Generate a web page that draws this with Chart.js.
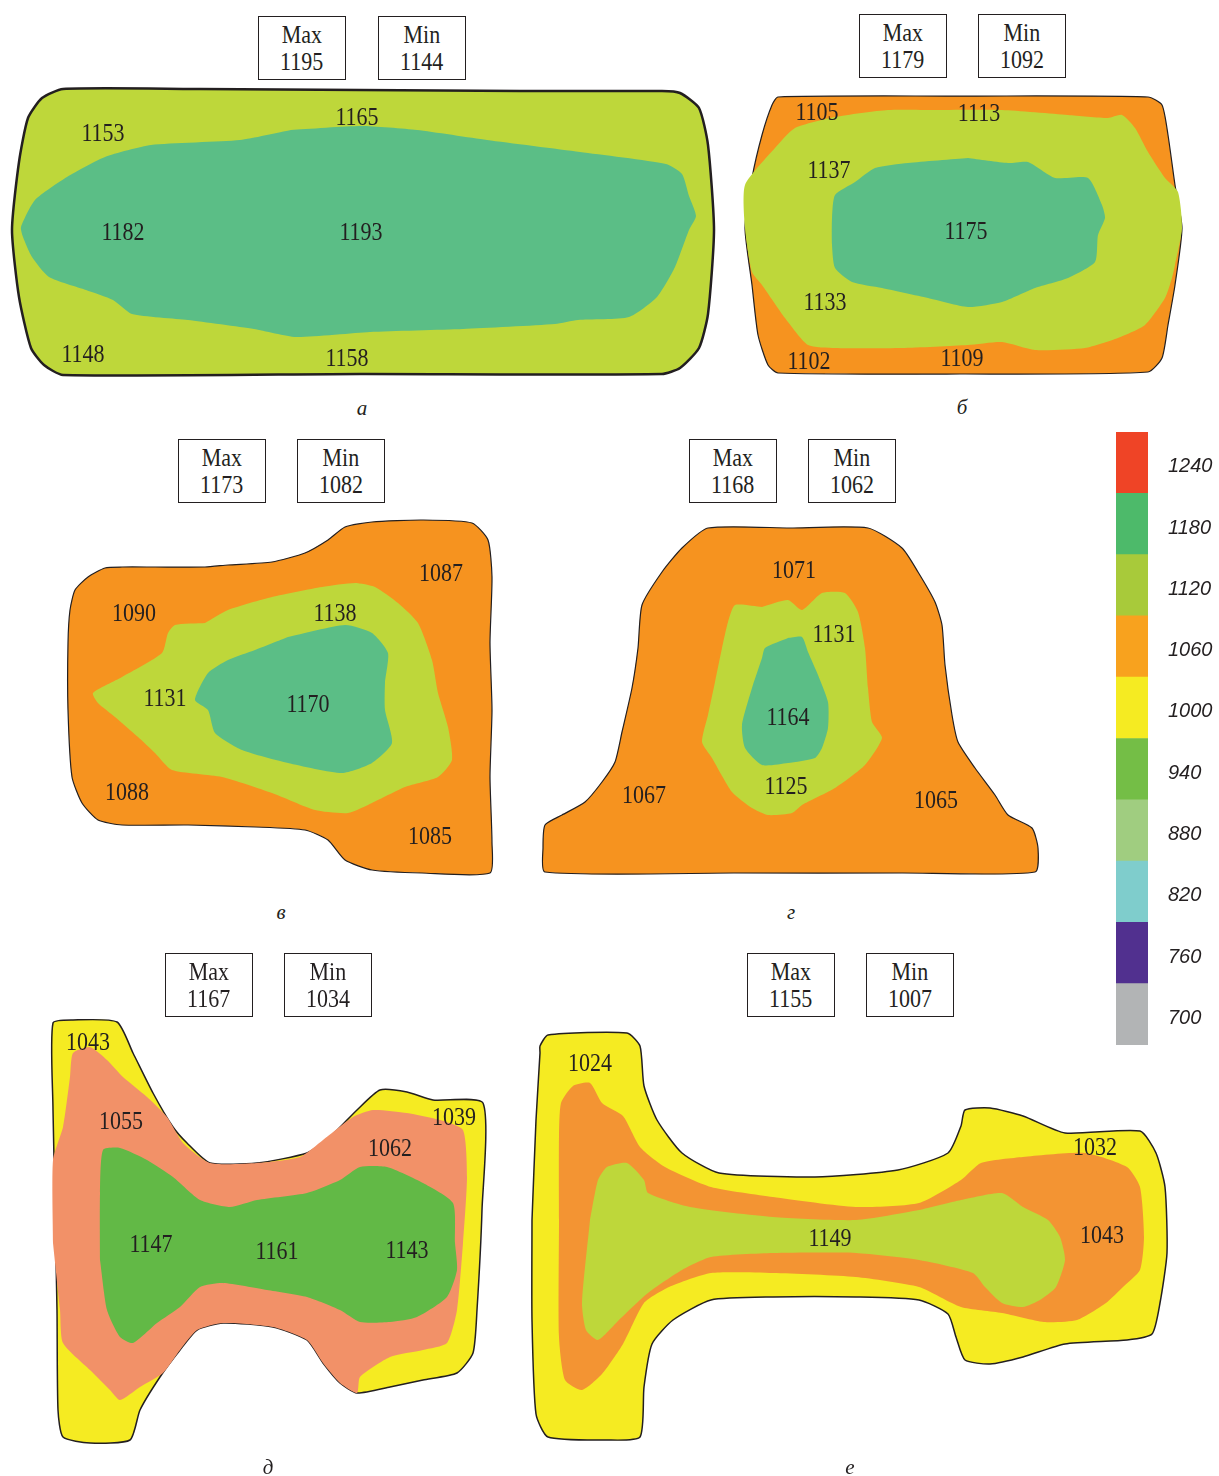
<!DOCTYPE html>
<html>
<head>
<meta charset="utf-8">
<script src="https://cdn.jsdelivr.net/npm/chart.js@4.4.1/dist/chart.umd.min.js"></script>
<style>
  html, body { margin: 0; padding: 0; background: #fff; }
  #page { position: relative; width: 1219px; height: 1476px; overflow: hidden; background: #fff; }
  #page canvas { position: absolute; }
  .tbox {
    position: absolute; box-sizing: border-box; border: 1.5px solid #231f20;
    font: 25px "Liberation Serif", "Times New Roman", serif; color: #231f20;
    text-align: center; line-height: 27px; padding-top: 4px;
  }
  .tbox span { display: inline-block; transform: scaleX(0.88); }
  .cap {
    position: absolute; transform: translate(-50%, -50%);
    font: italic 21px "Liberation Serif", "Times New Roman", serif; color: #231f20;
  }
</style>
</head>
<body>
<div id="page"></div>
<script>
// ---- Temperature field data for six rolled sections (°C) ----
// Contour rings are [x, y] in the common drawing frame; temps are spot readings.

// Section а
const secA_outer = [[200,89],[360,90],[520,91],[662,91],[680,93],[699,108],[708,145],[714,230],[708,314],[699,348],[680,368],[662,374],[360,374],[63,375],[44,365],[31,348],[19,297],[12,230],[19,162],[28,118],[42,98],[63,89]];
const secA_core = [[291,130],[361,126],[417,130],[487,140],[580,152],[666,164],[682,174],[689,196],[696,216],[689,230],[675,267],[657,297],[629,317],[578,320],[555,324],[463,329],[370,332],[296,337],[254,329],[188,320],[132,314],[113,300],[86,290],[49,277],[32,257],[23,237],[21,227],[35,200],[67,177],[105,157],[151,145],[240,140]];
const secA_temps = [1153, 1165, 1182, 1193, 1148, 1158];
const secA_at = [[103,133],[357,117],[123,232],[361,232],[83,354],[347,358]];

// Section б
const secB_outer = [[960,96],[1148,97],[1162,105],[1168,135],[1175,185],[1182,228],[1175,285],[1168,325],[1162,358],[1148,372],[960,374],[778,373],[768,365],[758,335],[752,285],[745,228],[752,178],[762,135],[772,105],[778,97]];
const secB_mid = [[935,110],[1002,110],[1068,115],[1108,118],[1122,115],[1135,128],[1148,152],[1165,178],[1178,192],[1182,228],[1175,265],[1172,278],[1165,298],[1145,325],[1118,338],[1085,348],[1035,350],[1002,342],[968,345],[902,348],[835,348],[808,345],[785,318],[762,285],[752,272],[745,228],[745,185],[775,148],[795,128],[835,117],[888,110]];
const secB_core = [[968,158],[1008,163],[1028,162],[1055,178],[1088,178],[1102,205],[1105,218],[1098,235],[1095,262],[1068,278],[1035,288],[1002,302],[968,307],[928,298],[882,288],[852,282],[835,268],[832,245],[832,218],[835,195],[855,182],[875,168],[908,163]];
const secB_temps = [1105, 1113, 1137, 1175, 1133, 1102, 1109];
const secB_at = [[817,112],[979,113],[829,170],[966,231],[825,302],[809,361],[962,358]];

// Section в
const secC_outer = [[155,567],[205,567],[228,565],[272,562],[305,553],[328,540],[345,527],[372,522],[422,520],[472,523],[488,540],[492,577],[490,643],[492,710],[490,777],[492,843],[490,873],[422,873],[372,870],[345,860],[328,840],[305,830],[255,827],[188,825],[122,825],[98,820],[82,803],[72,777],[68,710],[68,643],[70,610],[75,590],[88,577],[105,568],[122,567]];
const secC_mid = [[205,623],[228,610],[272,597],[322,587],[355,583],[375,587],[398,603],[418,623],[432,660],[438,693],[448,727],[452,760],[438,777],[405,787],[372,803],[348,813],[315,810],[272,793],[222,777],[172,770],[155,753],[138,737],[115,717],[98,703],[93,693],[122,677],[162,653],[168,633],[175,625]];
const secC_core = [[288,637],[345,625],[372,633],[388,653],[385,683],[385,710],[392,743],[372,763],[342,773],[288,763],[242,750],[215,733],[208,710],[195,700],[208,673],[228,660],[255,650]];
const secC_temps = [1090, 1087, 1138, 1131, 1170, 1088, 1085];
const secC_at = [[134,613],[441,573],[335,613],[165,698],[308,704],[127,792],[430,836]];

// Section г
const secD_outer = [[790,528],[868,528],[902,548],[918,572],[935,602],[942,625],[945,665],[952,715],[958,742],[975,768],[995,795],[1008,815],[1032,828],[1038,848],[1035,872],[902,873],[735,873],[545,872],[543,848],[545,825],[562,815],[585,802],[602,782],[615,762],[622,732],[632,688],[638,648],[642,605],[662,572],[682,548],[708,528]];
const secD_mid = [[762,607],[788,600],[802,610],[822,593],[845,593],[858,612],[865,648],[868,688],[872,722],[882,738],[865,765],[835,788],[802,805],[792,813],[768,815],[752,808],[732,792],[712,758],[702,742],[708,715],[715,682],[722,648],[728,622],[735,605]];
const secD_core = [[788,638],[802,637],[808,652],[818,675],[828,702],[828,728],[822,748],[815,758],[788,763],[762,765],[745,748],[742,725],[752,688],[762,658],[765,648]];
const secD_temps = [1071, 1131, 1164, 1125, 1067, 1065];
const secD_at = [[794,570],[834,634],[788,717],[786,786],[644,795],[936,800]];

// Section д
const secE_outer = [[53,1110],[53,1023],[73,1020],[117,1022],[133,1053],[153,1093],[173,1127],[187,1143],[210,1163],[257,1163],[307,1153],[330,1137],[357,1110],[380,1090],[407,1092],[433,1100],[483,1103],[482,1210],[477,1310],[473,1353],[457,1373],[423,1380],[390,1387],[357,1393],[340,1383],[323,1363],[307,1340],[273,1327],[223,1323],[197,1330],[180,1350],[160,1377],[140,1410],[130,1440],[90,1443],[63,1437],[58,1410],[57,1310],[55,1210]];
const secE_mid = [[53,1243],[53,1160],[63,1127],[70,1077],[73,1053],[90,1047],[107,1060],[123,1077],[147,1097],[167,1117],[183,1143],[210,1163],[257,1163],[300,1157],[323,1140],[353,1117],[373,1110],[407,1113],[440,1120],[463,1130],[467,1177],[463,1243],[457,1310],[447,1343],[423,1350],[390,1357],[360,1377],[357,1393],[340,1383],[323,1363],[307,1340],[273,1327],[223,1323],[197,1330],[180,1350],[163,1373],[140,1387],[120,1400],[110,1390],[90,1370],[63,1343],[60,1310]];
const secE_core = [[100,1260],[100,1193],[103,1150],[120,1148],[147,1160],[173,1177],[200,1200],[230,1207],[257,1200],[307,1193],[340,1180],[360,1167],[387,1167],[423,1183],[453,1203],[455,1243],[457,1270],[447,1297],[417,1317],[390,1322],[360,1322],[340,1310],[307,1297],[267,1290],[223,1283],[200,1287],[180,1307],[157,1323],[133,1343],[120,1337],[107,1310]];
const secE_temps = [1043, 1055, 1039, 1062, 1147, 1161, 1143];
const secE_at = [[88,1042],[121,1121],[454,1117],[390,1148],[151,1244],[277,1251],[407,1250]];

// Section е
const secF_outer = [[532,1220],[536,1120],[540,1053],[540,1046],[548,1035],[627,1033],[640,1046],[644,1086],[657,1120],[682,1153],[719,1173],[815,1177],[898,1170],[948,1153],[961,1126],[965,1110],[990,1108],[1023,1116],[1065,1133],[1140,1131],[1156,1153],[1165,1187],[1167,1253],[1160,1303],[1152,1334],[1127,1340],[1065,1344],[1023,1357],[990,1364],[965,1360],[956,1337],[948,1314],[919,1300],[856,1297],[773,1297],[711,1300],[673,1320],[652,1344],[644,1387],[640,1437],[607,1440],[548,1437],[536,1414],[532,1320]];
const secF_mid = [[559,1220],[559,1136],[561,1103],[573,1086],[590,1083],[602,1103],[623,1116],[640,1147],[665,1167],[711,1187],[773,1197],[856,1207],[919,1203],[961,1180],[981,1163],[1023,1157],[1085,1153],[1127,1167],[1140,1187],[1144,1237],[1140,1270],[1123,1287],[1106,1303],[1077,1320],[1044,1322],[1002,1313],[961,1307],[919,1287],[856,1277],[773,1273],[711,1273],[669,1287],[644,1303],[623,1344],[602,1374],[582,1390],[565,1380],[559,1337]];
const secF_core = [[590,1220],[598,1180],[607,1167],[627,1163],[644,1180],[648,1193],[690,1207],[773,1217],[856,1220],[919,1210],[961,1200],[1002,1193],[1023,1207],[1048,1220],[1060,1237],[1065,1260],[1056,1287],[1040,1300],[1023,1307],[1002,1303],[985,1287],[973,1273],[919,1260],[856,1253],[773,1253],[711,1257],[682,1270],[648,1293],[619,1320],[598,1340],[586,1330],[582,1303]];
const secF_temps = [1024, 1032, 1149, 1043];
const secF_at = [[590,1063],[1095,1147],[830,1238],[1102,1235]];

// Extremes per section and captions
const sectionNames = ['а', 'б', 'в', 'г', 'д', 'е'];
const maxTemps = [1195, 1179, 1173, 1168, 1167, 1155];
const minTemps = [1144, 1092, 1082, 1062, 1034, 1007];

// Colour scale (°C)
const scaleLabels = ['1240', '1180', '1120', '1060', '1000', '940', '880', '820', '760', '700'];
const scaleColors = ['#ef4426', '#4dba6a', '#a8ca3a', '#f8a21e', '#f5eb22', '#74be46', '#a0cd80', '#7fcdcc', '#51308f', '#b2b4b5'];
const scaleBand = [1, 1, 1, 1, 1, 1, 1, 1, 1, 1];

// ---- Zone fill colours ----
const FILL = {
  green: '#5bbe86', yellowGreen: '#bed73a', orange: '#f6931f',
  yellow: '#f5eb22', salmon: '#f29168', deepGreen: '#62b946', orangeLight: '#f39433'
};
const INK = '#231f20';

// ---- Layout ----
const panels = [
  { frame: [0, 80, 725, 392],    outline: 2.5, layers: [[secA_outer, FILL.yellowGreen], [secA_core, FILL.green]], temps: secA_temps, at: secA_at, maxBox: [258, 16], minBox: [378, 16], cap: [362, 408] },
  { frame: [735, 85, 1195, 390], outline: 1.2, layers: [[secB_outer, FILL.orange], [secB_mid, FILL.yellowGreen], [secB_core, FILL.green]], temps: secB_temps, at: secB_at, maxBox: [859, 14], minBox: [978, 14], cap: [962, 407] },
  { frame: [55, 505, 505, 885],  outline: 1.2, layers: [[secC_outer, FILL.orange], [secC_mid, FILL.yellowGreen], [secC_core, FILL.green]], temps: secC_temps, at: secC_at, maxBox: [178, 439], minBox: [297, 439], cap: [281, 912] },
  { frame: [530, 510, 1050, 885], outline: 1.2, layers: [[secD_outer, FILL.orange], [secD_mid, FILL.yellowGreen], [secD_core, FILL.green]], temps: secD_temps, at: secD_at, maxBox: [689, 439], minBox: [808, 439], cap: [791, 912] },
  { frame: [40, 1010, 495, 1455], outline: 1.5, layers: [[secE_outer, FILL.yellow], [secE_mid, FILL.salmon], [secE_core, FILL.deepGreen]], temps: secE_temps, at: secE_at, maxBox: [165, 953], minBox: [284, 953], cap: [268, 1467] },
  { frame: [525, 1020, 1180, 1455], outline: 1.5, layers: [[secF_outer, FILL.yellow], [secF_mid, FILL.orangeLight], [secF_core, FILL.yellowGreen]], temps: secF_temps, at: secF_at, maxBox: [747, 953], minBox: [866, 953], cap: [850, 1467] }
];
const BOX_W = 88, BOX_H = 64;

const page = document.getElementById('page');

// Writes the spot temperatures at their data positions (narrow serif digits)
const spotLabels = {
  id: 'spotLabels',
  afterDatasetsDraw(chart) {
    const ctx = chart.ctx;
    chart.data.datasets.forEach((ds, i) => {
      if (!ds.spotValues) return;
      const meta = chart.getDatasetMeta(i);
      meta.data.forEach((pt, j) => {
        ctx.save();
        ctx.font = '25px "Liberation Serif", "Times New Roman", serif';
        ctx.fillStyle = INK;
        ctx.textAlign = 'center';
        ctx.textBaseline = 'middle';
        ctx.translate(pt.x, pt.y + 1);
        ctx.scale(0.88, 1);
        ctx.fillText(String(ds.spotValues[j]), 0, 0);
        ctx.restore();
      });
    });
  }
};

function ring(points) {
  const pts = points.map(([x, y]) => ({ x, y }));
  pts.push({ x: points[0][0], y: points[0][1] });
  return pts;
}

panels.forEach((p, idx) => {
  const [x0, y0, x1, y1] = p.frame;
  const cv = document.createElement('canvas');
  cv.width = x1 - x0; cv.height = y1 - y0;
  cv.style.left = x0 + 'px'; cv.style.top = y0 + 'px';
  page.appendChild(cv);

  const n = p.layers.length;
  const datasets = p.layers.map(([pts, color], k) => ({
    data: ring(pts),
    showLine: true,
    fill: 'shape',
    backgroundColor: color,
    borderColor: k === 0 ? INK : 'rgba(0,0,0,0)',
    borderWidth: k === 0 ? p.outline : 0,
    pointRadius: 0,
    tension: 0.2,
    order: n - k + 1
  }));
  datasets.push({
    data: p.at.map(([x, y]) => ({ x, y })),
    spotValues: p.temps,
    showLine: false,
    pointRadius: 0,
    order: 0
  });

  new Chart(cv, {
    type: 'scatter',
    data: { datasets },
    options: {
      responsive: false, animation: false, events: [],
      layout: { padding: 0 },
      plugins: { legend: { display: false }, tooltip: { enabled: false } },
      scales: {
        x: { type: 'linear', min: x0, max: x1, display: false },
        y: { type: 'linear', min: y0, max: y1, reverse: true, display: false }
      }
    },
    plugins: [spotLabels]
  });

  // Max / Min boxes and caption
  [[p.maxBox, 'Max', maxTemps[idx]], [p.minBox, 'Min', minTemps[idx]]].forEach(([pos, word, val]) => {
    const d = document.createElement('div');
    d.className = 'tbox';
    d.style.left = pos[0] + 'px'; d.style.top = pos[1] + 'px';
    d.style.width = BOX_W + 'px'; d.style.height = BOX_H + 'px';
    d.innerHTML = '<span>' + word + '</span><br><span>' + val + '</span>';
    page.appendChild(d);
  });
  const c = document.createElement('div');
  c.className = 'cap';
  c.style.left = p.cap[0] + 'px'; c.style.top = p.cap[1] + 'px';
  c.textContent = sectionNames[idx];
  page.appendChild(c);
});

// ---- Colour scale bar ----
const lg = document.createElement('canvas');
lg.width = 103; lg.height = 613;
lg.style.left = '1116px'; lg.style.top = '432px';
page.appendChild(lg);
new Chart(lg, {
  type: 'bar',
  data: {
    labels: scaleLabels,
    datasets: [{ data: scaleBand, backgroundColor: scaleColors, borderWidth: 0, barPercentage: 1, categoryPercentage: 1 }]
  },
  options: {
    indexAxis: 'y',
    responsive: false, animation: false, events: [],
    layout: { padding: 0 },
    plugins: { legend: { display: false }, tooltip: { enabled: false } },
    scales: {
      x: { min: 0, max: 1, display: false },
      y: {
        position: 'right',
        grid: { display: false, drawTicks: false },
        border: { display: false },
        ticks: { padding: 20, labelOffset: 4, color: INK, font: { family: '"Liberation Sans", Arial, sans-serif', style: 'italic', size: 20 } },
        afterFit(scale) { scale.width = 71; scale.paddingTop = 0; scale.paddingBottom = 0; }
      }
    }
  }
});
</script>
</body>
</html>
